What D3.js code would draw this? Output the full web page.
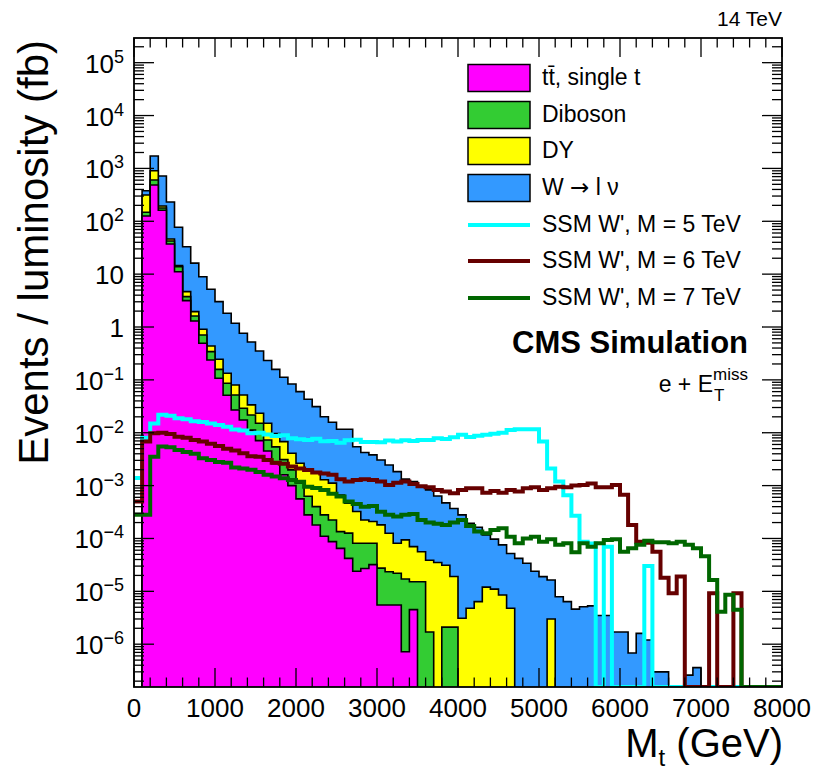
<!DOCTYPE html>
<html>
<head>
<meta charset="utf-8">
<title>SSM W' transverse mass, e + MET</title>
<script src="https://d3js.org/d3.v7.min.js"></script>
<style>
  body { margin: 0; background: #fff; }
  svg text { font-family: "Liberation Sans", Arial, Helvetica, sans-serif; fill: #000; }
</style>
</head>
<body>
<svg id="chart" width="819" height="773"></svg>
<script>
// 80 bins of 100 GeV, 0 - 8000 GeV
const binEdges = d3.range(0, 8001, 100);

// backgrounds (events / fb per bin), stacked bottom to top
const ttbar = [
  0, 126, 486, 162, 37.2, 11.1, 3.15, 1.30, 0.493, 0.238,
  0.107, 0.0513, 0.0269, 0.0174, 0.0112, 7.1e-3, 4.5e-3, 2.6e-3, 1.6e-3, 1.0e-3,
  5.6e-4, 2.8e-4, 1.8e-4, 1.1e-4, 8.7e-5, 6.5e-5, 4.2e-5, 2.4e-5, 2.7e-5, 3.2e-5,
  5.5e-6, 5.5e-6, 5.5e-6, 7.2e-7, 4.5e-6, 0, 0, 0, 0, 0,
  0, 0, 0, 0, 0, 0, 0, 0, 0, 0,
  0, 0, 0, 0, 0, 0, 0, 0, 0, 0,
  0, 0, 0, 0, 0, 0, 0, 0, 0, 0,
  0, 0, 0, 0, 0, 0, 0, 0, 0, 0];
const diboson = [
  0, 22, 117, 16, 5.2, 2.7, 0.60, 0.32, 0.215, 0.104,
  0.051, 0.035, 0.025, 0.0116, 0.0105, 8.0e-3, 2.8e-3, 2.8e-3, 1.5e-3, 9.8e-4,
  5.6e-4, 3.5e-4, 2.2e-4, 1.7e-4, 1.37e-4, 7.0e-5, 8.4e-5, 5.7e-5, 5.4e-5, 4.9e-5,
  2.2e-5, 1.8e-5, 1.65e-5, 1.64e-5, 1.07e-5, 1.52e-5, 1.7e-6, 0, 2.1e-6, 2.1e-6,
  0, 0, 0, 0, 0, 0, 0, 0, 0, 0,
  0, 0, 0, 0, 0, 0, 0, 0, 0, 0,
  0, 0, 0, 0, 0, 0, 0, 0, 0, 0,
  0, 0, 0, 0, 0, 0, 0, 0, 0, 0];
const drellYan = [
  0, 167, 303, 17, 3.8, 0.8, 0.92, 0.33, 0.198, 0.095,
  0.087, 0.047, 0.0283, 0.0229, 0.0119, 8.2e-3, 7.8e-3, 4.3e-3, 3.7e-3, 2.1e-3,
  1.53e-3, 1.35e-3, 1.34e-3, 1.01e-3, 8.9e-4, 5.3e-4, 3.4e-4, 2.43e-4, 1.43e-4, 1.28e-4,
  1.53e-4, 1.02e-4, 5.9e-5, 7.7e-5, 5.5e-5, 4.1e-5, 3.7e-5, 3.5e-5, 2.9e-5, 1.7e-5,
  3.1e-6, 4.8e-6, 6.4e-6, 1.2e-5, 1.1e-5, 8.5e-6, 4.8e-6, 0, 0, 0,
  0, 3.0e-6, 0, 0, 0, 0, 0, 0, 0, 0,
  0, 0, 0, 0, 0, 0, 0, 0, 0, 0,
  0, 0, 0, 0, 0, 0, 0, 0, 0, 0];
const wlnu = [
  0, 64, 812, 524, 186, 62.5, 28.4, 14.2, 8.04, 4.74,
  2.78, 1.69, 1.10, 0.71, 0.487, 0.329, 0.218, 0.148, 0.105, 0.0797,
  0.0572, 0.041, 0.0294, 0.0188, 0.0147, 0.0110, 0.0112, 5.1e-3, 4.0e-3, 3.6e-3,
  2.87e-3, 2.32e-3, 1.76e-3, 1.23e-3, 1.12e-3, 8.9e-4, 7.9e-4, 6.0e-4, 4.4e-4, 3.5e-4,
  2.76e-4, 1.89e-4, 1.57e-4, 1.05e-4, 8.6e-5, 6.7e-5, 4.7e-5, 4.2e-5, 3.4e-5, 2.4e-5,
  1.9e-5, 1.34e-5, 7.9e-6, 6.4e-6, 4.6e-6, 5.1e-6, 5.3e-6, 3.5e-6, 3.5e-6, 1.7e-6,
  1.7e-6, 6.8e-7, 1.6e-6, 1.2e-6, 3.0e-7, 3.0e-7, 0, 0, 2.6e-7, 3.6e-7,
  0, 0, 0, 0, 0, 0, 0, 0, 0, 0];

// signals
const wprime5 = [
  1.4e-3, 8.0e-3, 1.5e-2, 2.2e-2, 2.1e-2, 1.88e-2, 1.8e-2, 1.65e-2, 1.6e-2, 1.5e-2,
  1.4e-2, 1.3e-2, 1.15e-2, 1.1e-2, 9.8e-3, 1.0e-2, 9.3e-3, 8.7e-3, 9.0e-3, 7.9e-3,
  7.5e-3, 7.3e-3, 7.7e-3, 6.9e-3, 7.0e-3, 6.5e-3, 7.2e-3, 7.4e-3, 6.7e-3, 6.7e-3,
  6.6e-3, 7.1e-3, 6.8e-3, 7.2e-3, 7.0e-3, 7.3e-3, 7.3e-3, 7.9e-3, 7.6e-3, 8.2e-3,
  9.2e-3, 8.3e-3, 8.8e-3, 9.2e-3, 9.6e-3, 1.0e-2, 1.13e-2, 1.16e-2, 1.16e-2, 1.16e-2,
  6.8e-3, 2.1e-3, 1.2e-3, 6.6e-4, 2.7e-4, 8.7e-5, 8.0e-5, 0, 7.0e-5, 0,
  0, 0, 0, 3.0e-5, 0, 0, 0, 0, 0, 0,
  0, 0, 0, 0, 0, 0, 0, 0, 0, 0];
const wprime6 = [
  5.0e-4, 6.8e-3, 9.8e-3, 1.0e-2, 9.5e-3, 8.4e-3, 8.0e-3, 7.3e-3, 6.8e-3, 6.2e-3,
  5.6e-3, 5.0e-3, 4.6e-3, 4.1e-3, 3.6e-3, 3.5e-3, 3.05e-3, 2.7e-3, 2.6e-3, 2.3e-3,
  2.1e-3, 1.98e-3, 1.76e-3, 1.7e-3, 1.6e-3, 1.32e-3, 1.19e-3, 1.28e-3, 1.32e-3, 1.28e-3,
  1.19e-3, 1.03e-3, 1.13e-3, 1.19e-3, 1.07e-3, 9.7e-4, 9.3e-4, 8.3e-4, 7.7e-4, 7.2e-4,
  8.3e-4, 8.9e-4, 8.9e-4, 7.3e-4, 7.9e-4, 7.3e-4, 8.3e-4, 7.7e-4, 8.9e-4, 9.3e-4,
  8.3e-4, 8.9e-4, 9.5e-4, 9.3e-4, 1.0e-3, 1.03e-3, 1.1e-3, 9.3e-4, 9.3e-4, 1.03e-3,
  6.7e-4, 1.8e-4, 8.7e-5, 8.3e-5, 5.6e-5, 1.8e-5, 9.2e-6, 1.9e-5, 0, 0,
  0, 9.2e-6, 0, 0, 9.2e-6, 0, 0, 0, 0, 0];
const wprime7 = [
  2.8e-4, 2.8e-4, 3.5e-3, 5.5e-3, 5.3e-3, 4.7e-3, 4.3e-3, 4.0e-3, 3.3e-3, 3.05e-3,
  2.8e-3, 2.7e-3, 2.2e-3, 2.1e-3, 2.0e-3, 1.8e-3, 1.6e-3, 1.48e-3, 1.38e-3, 1.28e-3,
  1.18e-3, 9.5e-4, 9.0e-4, 8.3e-4, 7.0e-4, 6.2e-4, 5.0e-4, 4.5e-4, 4.0e-4, 4.1e-4,
  3.2e-4, 2.8e-4, 2.6e-4, 2.8e-4, 2.9e-4, 2.24e-4, 2.0e-4, 1.9e-4, 1.8e-4, 2.0e-4,
  2.24e-4, 1.73e-4, 1.35e-4, 1.26e-4, 1.45e-4, 1.56e-4, 1.08e-4, 8.1e-5, 1.0e-4, 1.08e-4,
  8.7e-5, 9.7e-5, 7.6e-5, 8.1e-5, 5.5e-5, 8.1e-5, 7.0e-5, 8.1e-5, 9.4e-5, 9.7e-5,
  5.6e-5, 6.5e-5, 7.6e-5, 9.1e-5, 8.5e-5, 8.5e-5, 8.1e-5, 8.7e-5, 7.6e-5, 6.5e-5,
  4.6e-5, 1.64e-5, 4.1e-6, 8.6e-6, 4.5e-6, 0, 0, 0, 0, 0];

const stackKeys = ["tt", "dib", "dy", "w"];
const stackColors = {tt: "#ff00ff", dib: "#33cc33", dy: "#ffff00", w: "#3399ff"};
const signals = [
  {name: "SSM W', M = 5 TeV", values: wprime5, color: "#00ffff"},
  {name: "SSM W', M = 6 TeV", values: wprime6, color: "#660000"},
  {name: "SSM W', M = 7 TeV", values: wprime7, color: "#006600"}
];
const legendFills = [
  {label: "tt\u0304, single t", key: "tt"},
  {label: "Diboson", key: "dib"},
  {label: "DY", key: "dy"},
  {label: "W \u2192 l \u03bd", key: "w"}
];
const xTickValues = [0, 1000, 2000, 3000, 4000, 5000, 6000, 7000, 8000];
const yDecades = [-6, -5, -4, -3, -2, -1, 0, 1, 2, 3, 4, 5];

const svg = d3.select("#chart");
const pL = 134, pR = 782, pT = 38, pB = 687;
const yMin = 1.55e-7, yMax = 2.93e5;

const x = d3.scaleLinear().domain([0, 8000]).range([pL, pR]);
const y = d3.scaleLog().domain([yMin, yMax]).range([pB, pT]);

svg.append("defs").append("clipPath").attr("id", "plotclip")
  .append("rect").attr("x", pL).attr("y", pT)
  .attr("width", pR - pL).attr("height", pB - pT);

const plot = svg.append("g").attr("clip-path", "url(#plotclip)");

// histogram outline as step points; empty bins fall to the frame bottom
function stepPoints(vals) {
  const pts = [[x(binEdges[0]), pB + 3]];
  vals.forEach(function (v, i) {
    const yy = v > yMin ? y(v) : pB + 3;
    pts.push([x(binEdges[i]), yy], [x(binEdges[i + 1]), yy]);
  });
  pts.push([x(binEdges[vals.length]), pB + 3]);
  return pts;
}

const rows = ttbar.map(function (d, i) {
  return {tt: ttbar[i], dib: diboson[i], dy: drellYan[i], w: wlnu[i]};
});
const stacked = d3.stack().keys(stackKeys)(rows);

const area = d3.area().x(d => d[0]).y0(pB + 3).y1(d => d[1]);
const line = d3.line().x(d => d[0]).y(d => d[1]);

// ROOT style: each cumulative histogram drawn from the bottom, top one first
stacked.slice().reverse().forEach(function (s) {
  const tops = s.map(d => d[1]);
  const pts = stepPoints(tops);
  plot.append("path")
    .attr("d", area(pts))
    .attr("fill", stackColors[s.key])
    .attr("stroke", "none");
  plot.append("path")
    .attr("d", line(pts))
    .attr("fill", "none")
    .attr("stroke", "#000")
    .attr("stroke-width", 1.6);
});

signals.forEach(function (sig) {
  const pts = stepPoints(sig.values).map(p => [p[0], Math.min(p[1], pB)]);
  plot.append("path")
    .attr("d", line(pts.slice(1, -1)))
    .attr("fill", "none")
    .attr("stroke", sig.color)
    .attr("stroke-width", 4);
});

// axes: ticks point inward on all four sides
const axes = svg.append("g").attr("stroke", "#000").attr("stroke-width", 1.3);
const xMinor = d3.range(0, 8001, 200);
xMinor.forEach(function (v) {
  const len = v % 1000 === 0 ? 19 : 9.5;
  axes.append("line").attr("x1", x(v)).attr("x2", x(v)).attr("y1", pB).attr("y2", pB - len);
  axes.append("line").attr("x1", x(v)).attr("x2", x(v)).attr("y1", pT).attr("y2", pT + len);
});
const yMinorTicks = [];
for (let n = -7; n <= 5; n++) {
  for (let m = 1; m <= 9; m++) {
    const v = m * Math.pow(10, n);
    if (v >= yMin && v <= yMax) yMinorTicks.push({v: v, major: m === 1});
  }
}
yMinorTicks.forEach(function (t) {
  const len = t.major ? 20 : 10;
  axes.append("line").attr("x1", pL).attr("x2", pL + len).attr("y1", y(t.v)).attr("y2", y(t.v));
  axes.append("line").attr("x1", pR).attr("x2", pR - len).attr("y1", y(t.v)).attr("y2", y(t.v));
});
svg.append("rect")
  .attr("x", pL).attr("y", pT)
  .attr("width", pR - pL).attr("height", pB - pT)
  .attr("fill", "none").attr("stroke", "#000").attr("stroke-width", 1.8);

// tick labels
svg.append("g").selectAll("text")
  .data(xTickValues)
  .join("text")
  .attr("x", d => x(d))
  .attr("y", 717)
  .attr("text-anchor", "middle")
  .attr("font-size", 26)
  .text(d => d);

const yLab = svg.append("g").selectAll("text")
  .data(yDecades)
  .join("text")
  .attr("x", 124)
  .attr("y", d => y(Math.pow(10, d)) + 10)
  .attr("text-anchor", "end")
  .attr("font-size", 26);
yLab.each(function (d) {
  const t = d3.select(this);
  if (d === 0) { t.text("1"); return; }
  if (d === 1) { t.text("10"); return; }
  t.append("tspan").text("10");
  t.append("tspan").attr("dy", -10).attr("font-size", 18)
    .text(d < 0 ? "\u2212" + (-d) : String(d));
});

// axis titles
svg.append("text")
  .attr("transform", "translate(48,40) rotate(-90)")
  .attr("text-anchor", "end")
  .attr("font-size", 42)
  .text("Events / luminosity (fb)");

const xt = svg.append("text")
  .attr("x", 783).attr("y", 757)
  .attr("text-anchor", "end")
  .attr("font-size", 40);
xt.append("tspan").text("M");
xt.append("tspan").attr("dy", 9).attr("font-size", 24).text("t");
xt.append("tspan").attr("dy", -9).text(" (GeV)");

svg.append("text")
  .attr("x", 782).attr("y", 26)
  .attr("text-anchor", "end")
  .attr("font-size", 21)
  .text("14 TeV");

// legend
const rowY = [78, 115, 151, 188, 225, 261, 298];
const legend = svg.append("g");
legendFills.forEach(function (e, i) {
  legend.append("rect")
    .attr("x", 468).attr("y", rowY[i] - 13.5)
    .attr("width", 62).attr("height", 27)
    .attr("fill", stackColors[e.key])
    .attr("stroke", "#000").attr("stroke-width", 1.5);
  const t = legend.append("text")
    .attr("x", 542).attr("y", rowY[i] + 7)
    .attr("font-size", 23);
  if (e.key === "w") {
    // wider arrow, as in the original
    t.append("tspan").text("W ");
    t.append("tspan").attr("font-family", "DejaVu Sans").text("\u2192");
    t.append("tspan").text(" l \u03bd");
  } else {
    t.text(e.label);
  }
});
signals.forEach(function (sig, j) {
  const yy = rowY[4 + j];
  legend.append("line")
    .attr("x1", 468).attr("x2", 530).attr("y1", yy).attr("y2", yy)
    .attr("stroke", sig.color).attr("stroke-width", 4);
  legend.append("text")
    .attr("x", 542).attr("y", yy + 7)
    .attr("font-size", 23)
    .text(sig.name);
});

svg.append("text")
  .attr("x", 748).attr("y", 353)
  .attr("text-anchor", "end")
  .attr("font-size", 31)
  .attr("font-weight", "bold")
  .text("CMS Simulation");

// e + E_T^miss, sub/superscript stacked after the E
const miss = svg.append("text")
  .attr("y", 380).attr("font-size", 17).text("miss");
const missW = miss.node().getComputedTextLength();
const xE = 748 - missW;
miss.attr("x", xE);
svg.append("text").attr("x", xE + 1).attr("y", 401).attr("font-size", 17).text("T");
svg.append("text")
  .attr("x", xE).attr("y", 392)
  .attr("text-anchor", "end")
  .attr("font-size", 23)
  .text("e + E");
</script>
</body>
</html>
